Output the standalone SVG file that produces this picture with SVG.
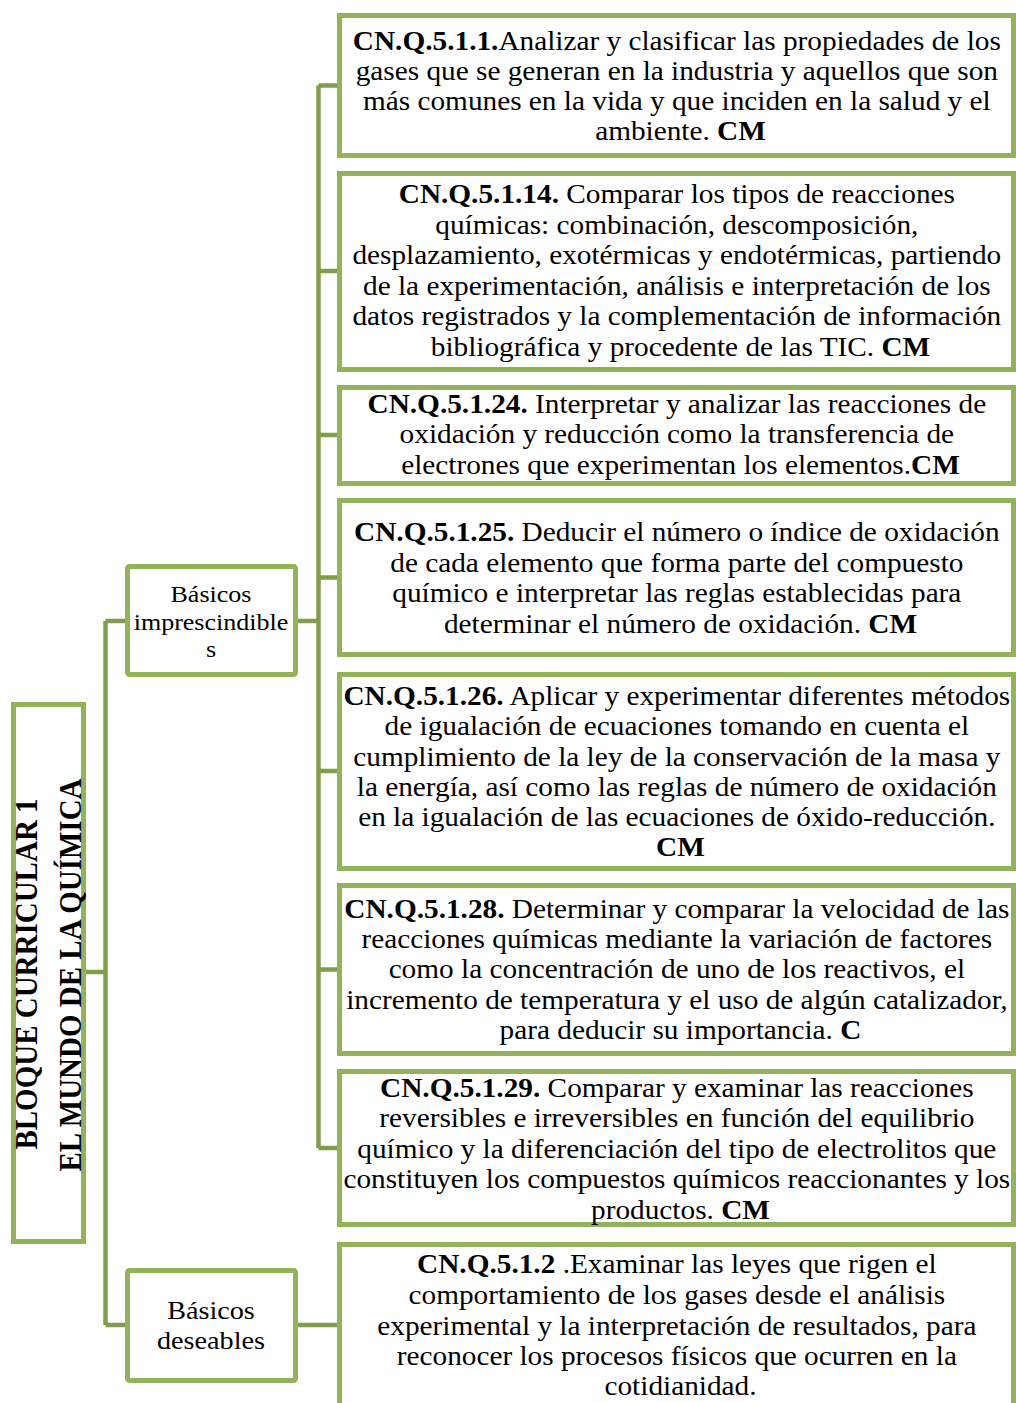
<svg xmlns="http://www.w3.org/2000/svg" width="1016" height="1403" viewBox="0 0 1016 1403">
<style>
.box{fill:#fff;stroke:#92b35a;stroke-width:5}
.con{fill:none;stroke:#809d4a;stroke-width:4.5;stroke-linejoin:miter}
.t{font-family:"Liberation Serif","Times New Roman",serif;font-size:27px;fill:#000;text-anchor:middle}
.s{font-family:"Liberation Serif","Times New Roman",serif;fill:#000;text-anchor:middle}
.b{font-weight:bold}
</style>
<rect width="1016" height="1403" fill="#fff"/>
<g id="connectors">
<path class="con" d="M86 972H105.5M105.5 621V1325M105.5 621H127M105.5 1325H127"/>
<path class="con" d="M298 621H318.5M318.5 85.5V1148M318.5 85.5H337M318.5 271H337M318.5 435H337M318.5 577.5H337M318.5 771H337M318.5 969.5H337M318.5 1148H337"/>
<path class="con" d="M298 1325H337"/>
</g>
<g id="bloque">
<rect class="box" x="13.5" y="704.5" width="70" height="537"/>
<g transform="translate(37 974) scale(1.085 1) rotate(-90)"><text class="s b" x="0" y="0" font-size="29">BLOQUE CURRICULAR 1</text></g>
<g transform="translate(81 975) scale(1.085 1) rotate(-90)"><text class="s b" x="0" y="0" font-size="29">EL MUNDO DE LA QUÍMICA</text></g>
</g>
<g id="imprescindibles">
<rect class="box" x="127.5" y="566.5" width="168" height="108" rx="2"/>
<g transform="translate(211 0) scale(1.085 1)">
<text class="s" font-size="24"><tspan x="0" y="602">Básicos</tspan><tspan x="0" y="630">imprescindible</tspan><tspan x="0" y="657">s</tspan></text>
</g>
</g>
<g id="deseables">
<rect class="box" x="127.5" y="1270.5" width="168" height="110" rx="2"/>
<g transform="translate(211 0) scale(1.085 1)">
<text class="s" font-size="26"><tspan x="0" y="1319">Básicos</tspan><tspan x="0" y="1349">deseables</tspan></text>
</g>
</g>
<g id="n1">
<rect class="box" x="339.5" y="15.5" width="674" height="140"/>
<g transform="translate(680.5 0) scale(1.085 1)"><text class="t">
<tspan x="0" y="50"><tspan class="b">CN.Q.5.1.1.</tspan>Analizar y clasificar las propiedades de los</tspan>
<tspan x="0" y="80">gases que se generan en la industria y aquellos que son</tspan>
<tspan x="0" y="110">más comunes en la vida y que inciden en la salud y el</tspan>
<tspan x="0" y="140">ambiente. <tspan class="b">CM</tspan></tspan>
</text></g>
</g>
<g id="n2">
<rect class="box" x="339.5" y="173.5" width="674" height="196"/>
<g transform="translate(680.5 0) scale(1.085 1)"><text class="t">
<tspan x="0" y="203"><tspan class="b">CN.Q.5.1.14.</tspan>  Comparar los tipos de reacciones</tspan>
<tspan x="0" y="234">químicas: combinación, descomposición,</tspan>
<tspan x="0" y="264">desplazamiento, exotérmicas y endotérmicas, partiendo</tspan>
<tspan x="0" y="295">de la experimentación, análisis e interpretación de los</tspan>
<tspan x="0" y="325">datos registrados y la complementación de información</tspan>
<tspan x="0" y="356">bibliográfica y procedente de las TIC. <tspan class="b">CM</tspan></tspan>
</text></g>
</g>
<g id="n3">
<rect class="box" x="339.5" y="387.5" width="674" height="96"/>
<g transform="translate(680.5 0) scale(1.085 1)"><text class="t">
<tspan x="0" y="413"><tspan class="b">CN.Q.5.1.24.</tspan> Interpretar y analizar las reacciones de</tspan>
<tspan x="0" y="443">oxidación y reducción como la transferencia de</tspan>
<tspan x="0" y="474">electrones que experimentan los elementos.<tspan class="b">CM</tspan></tspan>
</text></g>
</g>
<g id="n4">
<rect class="box" x="339.5" y="500.5" width="674" height="154"/>
<g transform="translate(680.5 0) scale(1.085 1)"><text class="t">
<tspan x="0" y="541"><tspan class="b">CN.Q.5.1.25.</tspan> Deducir el número o índice de oxidación</tspan>
<tspan x="0" y="572">de cada elemento que forma parte del compuesto</tspan>
<tspan x="0" y="602">químico e interpretar las reglas establecidas para</tspan>
<tspan x="0" y="633">determinar el número de oxidación. <tspan class="b">CM</tspan></tspan>
</text></g>
</g>
<g id="n5">
<rect class="box" x="339.5" y="674.5" width="674" height="194"/>
<g transform="translate(680.5 0) scale(1.085 1)"><text class="t">
<tspan x="0" y="705"><tspan class="b">CN.Q.5.1.26.</tspan> Aplicar y experimentar diferentes métodos</tspan>
<tspan x="0" y="735">de igualación de ecuaciones tomando en cuenta el</tspan>
<tspan x="0" y="766">cumplimiento de la ley de la conservación de la masa y</tspan>
<tspan x="0" y="796">la energía, así como las reglas de número de oxidación</tspan>
<tspan x="0" y="826">en la igualación de las ecuaciones de óxido-reducción.</tspan>
<tspan x="0" y="856" class="b">CM</tspan>
</text></g>
</g>
<g id="n6">
<rect class="box" x="339.5" y="885.5" width="674" height="168"/>
<g transform="translate(680.5 0) scale(1.085 1)"><text class="t">
<tspan x="0" y="918"><tspan class="b">CN.Q.5.1.28.</tspan> Determinar y comparar la velocidad de las</tspan>
<tspan x="0" y="948">reacciones químicas mediante la variación de factores</tspan>
<tspan x="0" y="978">como la concentración de uno de los reactivos, el</tspan>
<tspan x="0" y="1009">incremento de temperatura y el uso de algún catalizador,</tspan>
<tspan x="0" y="1039">para deducir su importancia. <tspan class="b">C</tspan></tspan>
</text></g>
</g>
<g id="n7">
<rect class="box" x="339.5" y="1071.5" width="674" height="153"/>
<g transform="translate(680.5 0) scale(1.085 1)"><text class="t">
<tspan x="0" y="1097"><tspan class="b">CN.Q.5.1.29.</tspan> Comparar y examinar las reacciones</tspan>
<tspan x="0" y="1127">reversibles e irreversibles en función del equilibrio</tspan>
<tspan x="0" y="1158">químico y la diferenciación del tipo de electrolitos que</tspan>
<tspan x="0" y="1188">constituyen los compuestos químicos reaccionantes y los</tspan>
<tspan x="0" y="1219">productos. <tspan class="b">CM</tspan></tspan>
</text></g>
</g>
<g id="n8">
<rect class="box" x="339.5" y="1244.5" width="674" height="200"/>
<g transform="translate(680.5 0) scale(1.085 1)"><text class="t">
<tspan x="0" y="1273"><tspan class="b">CN.Q.5.1.2</tspan> .Examinar las leyes que rigen el</tspan>
<tspan x="0" y="1304">comportamiento de los gases desde el análisis</tspan>
<tspan x="0" y="1335">experimental y la interpretación de resultados, para</tspan>
<tspan x="0" y="1365">reconocer los procesos físicos que ocurren en la</tspan>
<tspan x="0" y="1395">cotidianidad.</tspan>
</text></g>
</g>
</svg>
